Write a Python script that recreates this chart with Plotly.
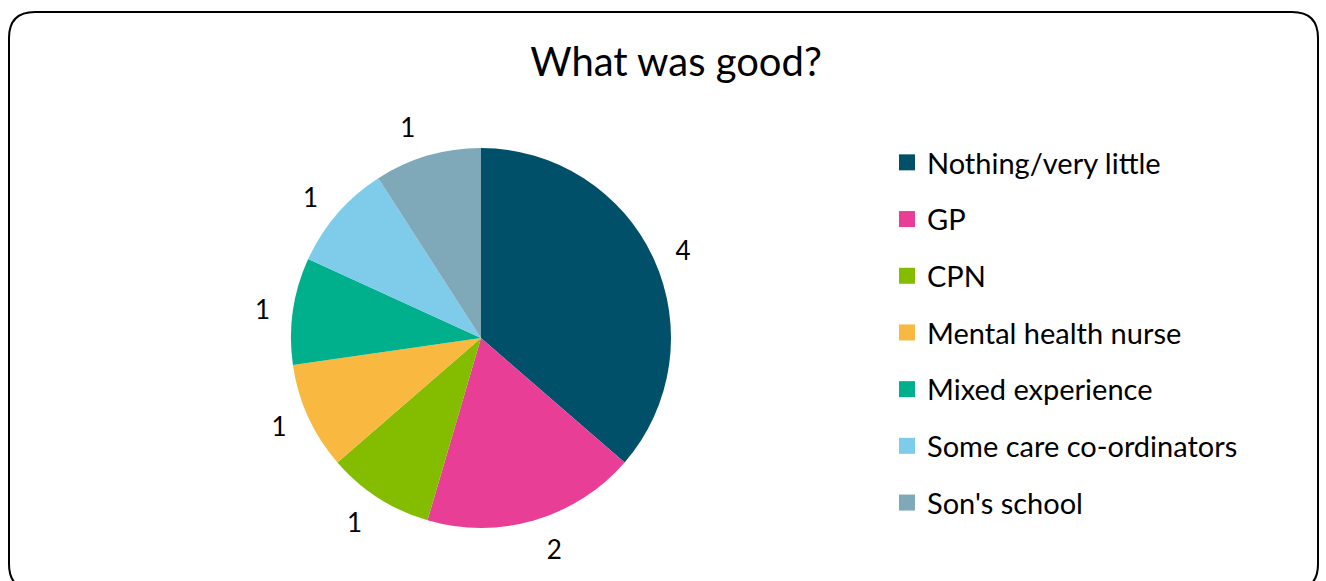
import plotly.graph_objects as go

# Survey answers and their counts
categories = [
    "Nothing/very little",
    "GP",
    "CPN",
    "Mental health nurse",
    "Mixed experience",
    "Some care co-ordinators",
    "Son's school",
]
counts = [4, 2, 1, 1, 1, 1, 1]
colors = ["#00506A", "#E83E96", "#84BD00", "#F9B840", "#00B08C", "#7ECBEA", "#7FA8B8"]

W, H = 1326, 581
FONT = "Lato"
CX, CY, R = 481, 338, 190      # pie centre and radius, px
LABEL_R = R + 15               # radius of the ring the value labels sit outside


def px(x, y):
    """Pixel position -> paper fractions."""
    return x / W, 1 - y / H


def square_domain(radius):
    x0, y0 = px(CX - radius, CY + radius)
    x1, y1 = px(CX + radius, CY - radius)
    return dict(x=[x0, x1], y=[y0, y1])


pie_common = dict(
    labels=categories,
    values=counts,
    sort=False,
    direction="clockwise",
    rotation=0,
    showlegend=False,
)

fig = go.Figure()

# Coloured slices
fig.add_trace(
    go.Pie(
        **pie_common,
        marker=dict(colors=colors, line=dict(width=0)),
        textinfo="none",
        hoverinfo="label+value",
        domain=square_domain(R),
    )
)

# Value labels, set slightly further out from the slices
fig.add_trace(
    go.Pie(
        **pie_common,
        marker=dict(colors=["rgba(0,0,0,0)"] * len(counts), line=dict(width=0)),
        textinfo="value",
        textposition="outside",
        textfont=dict(family=FONT, size=26, color="#000000"),
        outsidetextfont=dict(family=FONT, size=26, color="#000000"),
        hoverinfo="skip",
        domain=square_domain(LABEL_R),
    )
)

# Legend entries (square swatches), one group each so spacing can be set
for name, col in zip(categories, colors):
    fig.add_trace(
        go.Scatter(
            x=[None],
            y=[None],
            mode="markers",
            name=name,
            legendgroup=name,
            marker=dict(symbol="square", size=16, color=col),
            showlegend=True,
        )
    )


# Rounded border around the chart area
def rounded_rect(l, t, r, b, rad):
    def P(x, y):
        fx, fy = px(x, y)
        return f"{fx:.5f},{fy:.5f}"
    return (
        f"M {P(l + rad, t)} L {P(r - rad, t)} Q {P(r, t)} {P(r, t + rad)} "
        f"L {P(r, b - rad)} Q {P(r, b)} {P(r - rad, b)} "
        f"L {P(l + rad, b)} Q {P(l, b)} {P(l, b - rad)} "
        f"L {P(l, t + rad)} Q {P(l, t)} {P(l + rad, t)} Z"
    )


fig.update_layout(
    width=W,
    height=H,
    margin=dict(l=0, r=0, t=0, b=0),
    paper_bgcolor="white",
    plot_bgcolor="white",
    title=dict(
        text="What was good?",
        x=676 / W,
        xanchor="center",
        y=1 - 62 / H,
        yanchor="middle",
        font=dict(family=FONT, size=40, color="#000000"),
    ),
    xaxis=dict(visible=False),
    yaxis=dict(visible=False),
    legend=dict(
        x=887 / W,
        y=1 - 137 / H,
        xanchor="left",
        yanchor="top",
        font=dict(family=FONT, size=29, color="#000000"),
        tracegroupgap=16,
        itemclick=False,
        bgcolor="rgba(0,0,0,0)",
    ),
    shapes=[
        dict(
            type="path",
            xref="paper",
            yref="paper",
            path=rounded_rect(9, 12, 1318, 590, 26),
            line=dict(color="#000000", width=2),
            fillcolor="rgba(0,0,0,0)",
            layer="above",
        )
    ],
)

fig.write_html("out.html")
